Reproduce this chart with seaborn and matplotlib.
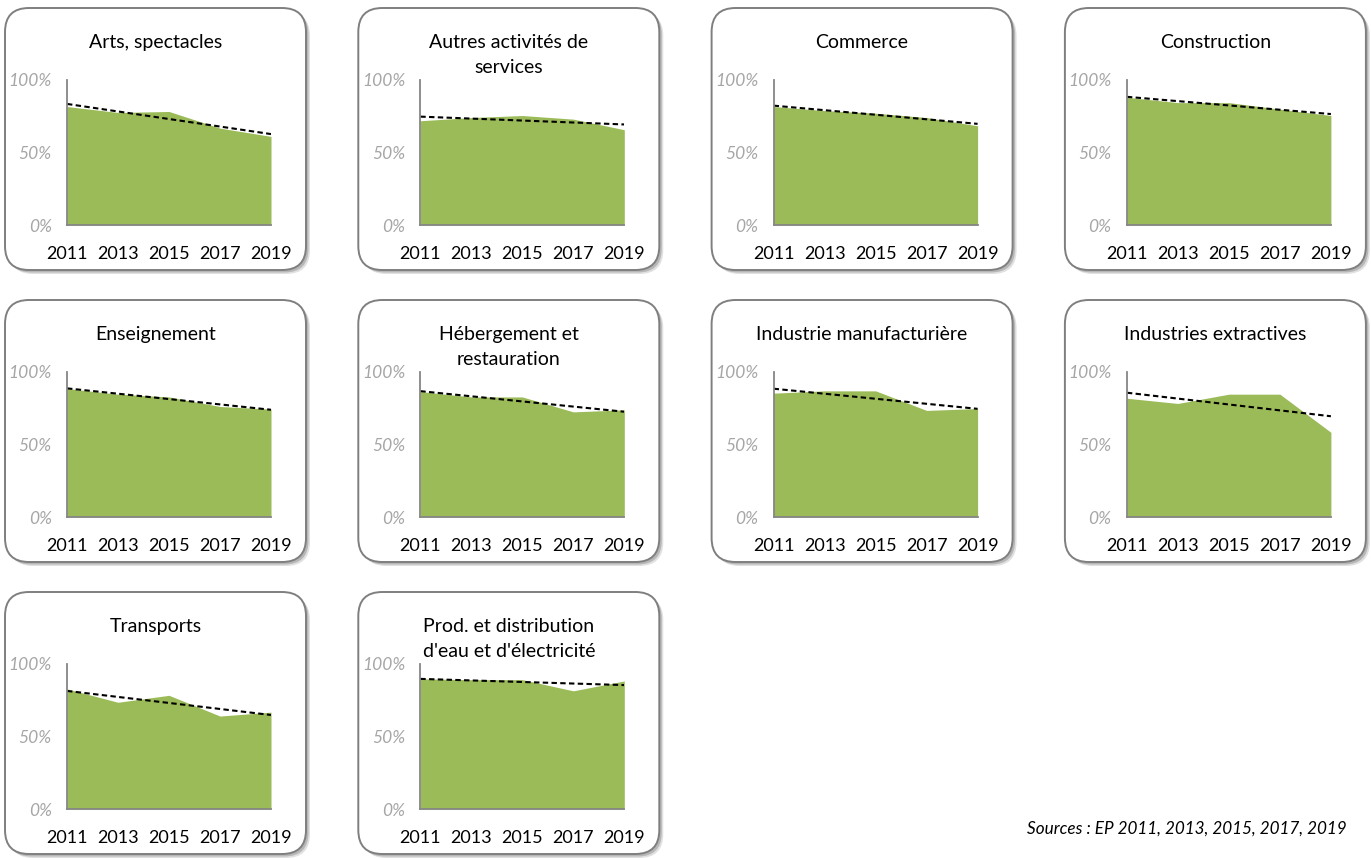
import matplotlib

matplotlib.use("Agg")

import matplotlib.pyplot as plt  # noqa: E402
import seaborn as sns  # noqa: E402
from matplotlib.patches import FancyBboxPatch  # noqa: E402
from matplotlib.transforms import IdentityTransform  # noqa: E402

YEARS = [2011, 2013, 2015, 2017, 2019]

TITLES = [
    "Arts, spectacles",
    "Autres activités de\nservices",
    "Commerce",
    "Construction",
    "Enseignement",
    "Hébergement et\nrestauration",
    "Industrie manufacturière",
    "Industries extractives",
    "Transports",
    "Prod. et distribution\nd'eau et d'électricité",
]

# share (%) per survey year
arts = [81.7, 77.6, 78.3, 66.8, 61.1]
autres_services = [71.9, 74.1, 75.5, 73.0, 65.7]
commerce = [81.7, 78.9, 77.1, 74.1, 68.4]
construction = [88.1, 84.4, 84.4, 79.9, 75.5]
enseignement = [88.6, 84.7, 82.8, 76.2, 74.4]
hebergement = [86.5, 82.8, 82.8, 72.5, 73.9]
industrie_manuf = [85.4, 87.0, 87.0, 73.5, 74.8]
industries_extr = [81.9, 78.3, 84.7, 84.7, 58.4]
transports = [82.8, 73.6, 78.4, 64.1, 66.8]
eau_electricite = [89.8, 89.2, 89.2, 81.5, 88.3]

SERIES = [
    arts, autres_services, commerce, construction, enseignement,
    hebergement, industrie_manuf, industries_extr, transports, eau_electricite,
]

GREEN = "#9BBB59"
AXIS_GREY = "#868686"
LABEL_GREY = "#A6A6A6"

W, H = 1371, 858

sns.set_style("white")
plt.rcParams["font.family"] = ["Lato", "DejaVu Sans"]

fig = plt.figure(figsize=(W / 100, H / 100), dpi=100)


def px_box(x, y_top, w, h):
    """pixel box (top-left origin) -> display coords (bottom-left origin)."""
    return x, H - y_top - h, w, h


for i, (title, vals) in enumerate(zip(TITLES, SERIES)):
    r, c = divmod(i, 4)
    bx = 5 + c * 353.3
    by = 8 + r * 292
    bw, bh = 301, 262

    # panel frame with soft shadow
    for off, alpha in [(4, 0.12), (2.5, 0.18)]:
        x, y, w, h = px_box(bx + off, by + off, bw, bh)
        fig.add_artist(FancyBboxPatch(
            (x, y), w, h, boxstyle="round,pad=0,rounding_size=24",
            transform=IdentityTransform(), facecolor="black", edgecolor="none",
            alpha=alpha, zorder=-3))
    x, y, w, h = px_box(bx, by, bw, bh)
    fig.add_artist(FancyBboxPatch(
        (x, y), w, h, boxstyle="round,pad=0,rounding_size=24",
        transform=IdentityTransform(), facecolor="white", edgecolor="#7F7F7F",
        linewidth=1.4, zorder=-2))

    fig.text((bx + bw / 2) / W, 1 - (by + 26) / H, title, ha="center", va="top",
             fontsize=14, color="black", linespacing=1.6)

    ax = fig.add_axes([(bx + 62) / W, 1 - (by + 217) / H, 204 / W, 145 / H])
    ax.patch.set_visible(False)
    ax.fill_between(YEARS, vals, 0, color=GREEN, lw=0, zorder=1)
    sns.regplot(x=YEARS, y=vals, ax=ax, scatter=False, ci=None,
                line_kws=dict(color="black", lw=1.5, ls=(0, (2.6, 1.6)), zorder=2))
    ax.set_xlim(2011, 2019)
    ax.set_ylim(0, 100)
    ax.set_xticks(YEARS)
    ax.set_xticklabels([str(y) for y in YEARS])
    ax.set_yticks([0, 50, 100])
    ax.set_yticklabels(["0%", "50%", "100%"])
    ax.set_xlabel("")
    ax.set_ylabel("")
    for side in ["top", "right"]:
        ax.spines[side].set_visible(False)
    for side in ["left", "bottom"]:
        ax.spines[side].set_color(AXIS_GREY)
        ax.spines[side].set_linewidth(1.3)
        ax.spines[side].set_zorder(3)
    ax.tick_params(axis="both", direction="out", length=4, width=1.2, color=AXIS_GREY)
    ax.tick_params(axis="x", labelsize=13, labelcolor="black", pad=11)
    ax.tick_params(axis="y", labelsize=12.5, labelcolor=LABEL_GREY, pad=7)
    for lab in ax.get_yticklabels():
        lab.set_style("italic")
    ax.grid(False)

fig.text(1347 / W, 1 - 829 / H, "Sources : EP 2011, 2013, 2015, 2017, 2019",
         ha="right", va="center", fontsize=12.3, style="italic", color="black")

fig.savefig("out.png", dpi=100)
